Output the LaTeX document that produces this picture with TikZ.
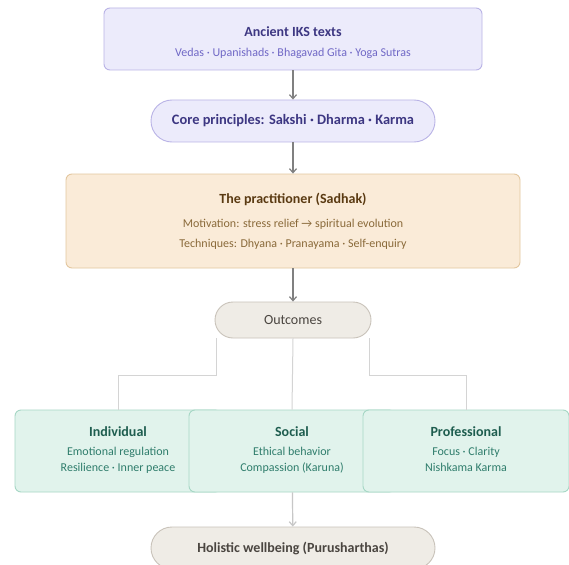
\documentclass[tikz,border=0pt]{standalone}
\usepackage{fontspec}
\setmainfont{Carlito}
\usetikzlibrary{arrows.meta,positioning,calc}
\definecolor{lavfill}{HTML}{ECEBFB}
\definecolor{lavline}{HTML}{B9B3E6}
\definecolor{lavtitle}{HTML}{3D3782}
\definecolor{lavtext}{HTML}{7068C6}
\definecolor{peachfill}{HTML}{FAEBD8}
\definecolor{peachline}{HTML}{E3C79F}
\definecolor{peachtitle}{HTML}{5A3A12}
\definecolor{peachtext}{HTML}{8A6A3A}
\definecolor{greyfill}{HTML}{EFECE6}
\definecolor{greyline}{HTML}{C9C3BA}
\definecolor{greytext}{HTML}{4A4540}
\definecolor{mintfill}{HTML}{E1F3EC}
\definecolor{mintline}{HTML}{A6D7C5}
\definecolor{minttitle}{HTML}{1E5D4F}
\definecolor{minttext}{HTML}{2F7D6C}
\newcommand{\ttlfont}{\fontsize{14}{16}\selectfont\bfseries}
\tikzset{
    box/.style      = {rectangle, inner sep=0pt, line width=0.9pt, align=center, rounded corners=6pt},
    lavbox/.style   = {box, fill=lavfill, draw=lavline, font=\fontsize{12}{20}\selectfont},
    peachbox/.style = {box, fill=peachfill, draw=peachline, font=\fontsize{12}{20}\selectfont},
    mintbox/.style  = {box, fill=mintfill, draw=mintline, minimum width=206pt, minimum height=82pt,
                       font=\fontsize{12}{16}\selectfont},
    pill/.style     = {box, rounded corners=#1},
    flow/.style     = {-{Straight Barb[length=4pt,width=7pt]}, line width=1.2pt, draw=black!50},
    link/.style     = {line width=1pt, draw=black!17}
}
\begin{document}
\begin{tikzpicture}[x=1pt, y=-1pt]
    \useasboundingbox (0,0) rectangle (569,564);
    \fill[white] (0,0) rectangle (569,564);

    % Sources
    \node[lavbox, minimum width=378pt, minimum height=62pt] (texts) at (293,39)
        {\rule{0pt}{18pt}\textcolor{lavtitle}{\ttlfont Ancient IKS texts}\\
         \textcolor{lavtext}{Vedas · Upanishads · Bhagavad Gita · Yoga Sutras}};
    \node[lavbox, pill=21pt, minimum width=284pt, minimum height=42pt] (core) at (293,121)
        {\textcolor{lavtitle}{\fontsize{14.4}{16}\selectfont\bfseries Core principles: Sakshi · Dharma · Karma}};

    % Practitioner
    \node[peachbox, minimum width=454pt, minimum height=94pt] (sadhak) at (293,221)
        {\textcolor{peachtitle}{\ttlfont The practitioner (Sadhak)}\\[4pt]
         \textcolor{peachtext}{Motivation: stress relief → spiritual evolution}\\
         \textcolor{peachtext}{Techniques: Dhyana · Pranayama · Self-enquiry}};

    \node[pill=18pt, fill=greyfill, draw=greyline, minimum width=156pt, minimum height=36pt] (outc) at (293,320)
        {\textcolor{greytext}{\fontsize{14}{16}\selectfont Outcomes}};

    % Outcome areas
    \node[mintbox] (indiv) at (118,451)
        {\textcolor{minttitle}{\ttlfont Individual}\\[3pt]
         \textcolor{minttext}{Emotional regulation}\\
         \textcolor{minttext}{Resilience · Inner peace}\strut};
    \node[mintbox] (soc) at (292,451)
        {\textcolor{minttitle}{\ttlfont Social}\\[3pt]
         \textcolor{minttext}{Ethical behavior}\\
         \textcolor{minttext}{Compassion (Karuna)}\strut};
    \node[mintbox] (prof) at (466,451)
        {\textcolor{minttitle}{\ttlfont Professional}\\[3pt]
         \textcolor{minttext}{Focus · Clarity}\\
         \textcolor{minttext}{Nishkama Karma}\strut};

    \node[pill=21pt, fill=greyfill, draw=greyline, minimum width=284pt, minimum height=42pt] (holistic) at (293,548)
        {\textcolor{greytext}{\ttlfont Holistic wellbeing (Purusharthas)}};

    % Connectors
    \draw[flow] (texts) -- (core);
    \draw[flow] (core) -- (sadhak);
    \draw[flow] (sadhak) -- (outc);
    \draw[link] ([xshift=2pt]outc.south west) -- ++(0,37) -| (indiv.north);
    \draw[link] (outc.south) -- (soc.north);
    \draw[link] ([xshift=-2pt]outc.south east) -- ++(0,37) -| (prof.north);
    \draw[flow, draw=black!22] (soc) -- (holistic);
\end{tikzpicture}
\end{document}
